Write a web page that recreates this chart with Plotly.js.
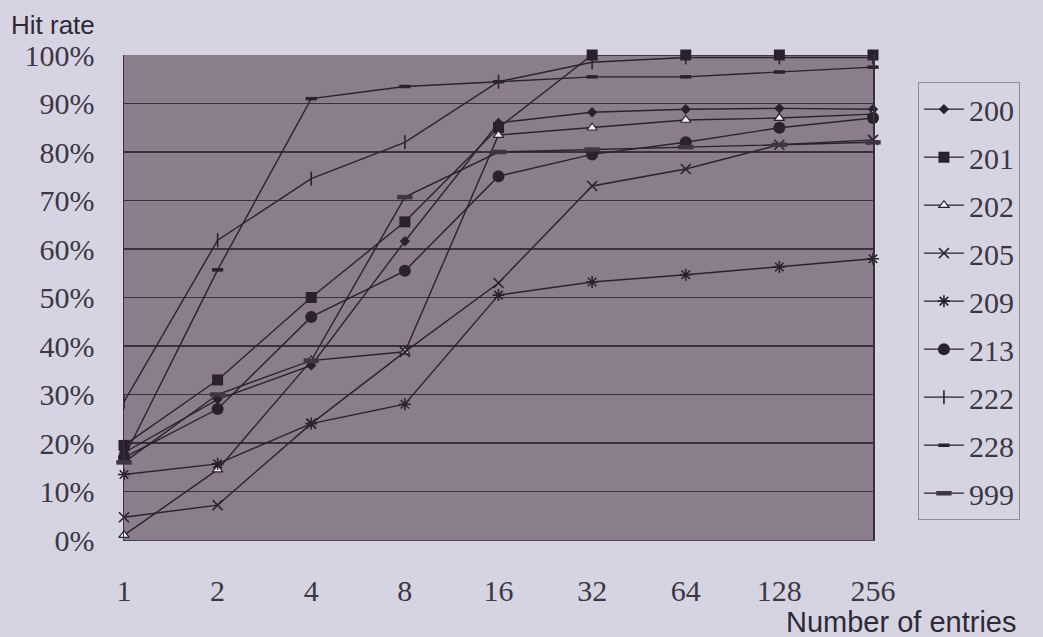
<!DOCTYPE html>
<html>
<head>
<meta charset="utf-8">
<script src="https://cdn.plot.ly/plotly-3.0.1.min.js"></script>
<style>
html,body{margin:0;padding:0;background:#d6d4e3;}
#chart{width:1043px;height:637px;}
</style>
</head>
<body>
<div id="chart"></div>
<script>
// Data
var entries = [1, 2, 4, 8, 16, 32, 64, 128, 256];
var entryLabels = ['1', '2', '4', '8', '16', '32', '64', '128', '256'];
var seriesNames = ['200', '201', '202', '205', '209', '213', '222', '228', '999'];
var s200 = [0.18, 0.29, 0.36, 0.616, 0.86, 0.882, 0.888, 0.89, 0.888];
var s201 = [0.195, 0.33, 0.50, 0.656, 0.85, 1.0, 1.0, 1.0, 1.0];
var s202 = [0.01, 0.145, 0.37, 0.388, 0.835, 0.85, 0.866, 0.87, 0.878];
var s205 = [0.047, 0.072, 0.24, 0.388, 0.53, 0.73, 0.765, 0.815, 0.825];
var s209 = [0.135, 0.157, 0.24, 0.28, 0.505, 0.532, 0.547, 0.563, 0.58];
var s213 = [0.17, 0.27, 0.46, 0.555, 0.75, 0.795, 0.82, 0.85, 0.87];
var s222 = [0.285, 0.618, 0.745, 0.82, 0.945, 0.985, 0.995, 0.995, 0.995];
var s228 = [0.17, 0.557, 0.91, 0.935, 0.945, 0.955, 0.955, 0.965, 0.975];
var s999 = [0.16, 0.30, 0.37, 0.707, 0.80, 0.805, 0.81, 0.815, 0.82];
var yTicks = [0, 0.1, 0.2, 0.3, 0.4, 0.5, 0.6, 0.7, 0.8, 0.9, 1.0];

var values = [s200, s201, s202, s205, s209, s213, s222, s228, s999];
var ink = '#29222e';
var markers = [
  {symbol: 'diamond', size: 8, color: ink, line: {width: 0}},
  {symbol: 'square', size: 11, color: ink, line: {width: 0}},
  {symbol: 'triangle-up', size: 9, color: '#f2f0f4', line: {width: 1.2, color: ink}},
  {symbol: 'x-thin-open', size: 10, color: ink, line: {width: 1.6, color: ink}},
  {symbol: 'asterisk-open', size: 10, color: ink, line: {width: 1.6, color: ink}},
  {symbol: 'circle', size: 12, color: ink, line: {width: 0}},
  {symbol: 'line-ns-open', size: 10, color: ink, line: {width: 1.6, color: ink}},
  {symbol: 'line-ew-open', size: 8, color: ink, line: {width: 3.5, color: ink}},
  {symbol: 'line-ew-open', size: 11, color: '#3e3644', line: {width: 4.5, color: '#3e3644'}}
];

var traces = seriesNames.map(function (name, i) {
  return {
    x: entries,
    y: values[i],
    name: name,
    legendgroup: 'g' + name,
    type: 'scatter',
    mode: 'lines+markers',
    line: {color: ink, width: 1.4},
    marker: markers[i],
    cliponaxis: false
  };
});

var tickFont = {family: '"Liberation Serif", "DejaVu Serif", serif', size: 30, color: '#3c3742'};

var layout = {
  width: 1043,
  height: 637,
  paper_bgcolor: '#d6d4e3',
  plot_bgcolor: '#8b7e8c',
  margin: {l: 124, r: 170, t: 55, b: 97},
  showlegend: true,
  font: {family: '"Liberation Serif", "DejaVu Serif", serif', color: '#3c3742'},
  xaxis: {
    type: 'log',
    range: [0, Math.log10(256)],
    tickvals: entries,
    ticktext: entryLabels,
    showgrid: false,
    zeroline: false,
    showline: true,
    linecolor: '#4a4250',
    linewidth: 1,
    mirror: false,
    ticks: '',
    ticklabelstandoff: 24,
    tickfont: tickFont
  },
  yaxis: {
    range: [0, 1],
    tickvals: yTicks,
    tickformat: '.0%',
    showgrid: true,
    gridcolor: '#3a3140',
    gridwidth: 1.2,
    zeroline: false,
    showline: true,
    linecolor: '#3a3140',
    linewidth: 1.5,
    mirror: true,
    ticks: '',
    ticklabelstandoff: 22,
    tickfont: tickFont
  },
  legend: {
    x: 1.060,
    xanchor: 'left',
    y: 0.944,
    yanchor: 'top',
    bgcolor: '#d6d4e3',
    bordercolor: '#8e8a9a',
    borderwidth: 1,
    font: {family: '"Liberation Serif", serif', size: 30, color: '#3c3742'},
    traceorder: 'grouped',
    tracegroupgap: 6,
    itemwidth: 40
  },
  annotations: [
    {
      text: 'Hit rate',
      xref: 'paper', yref: 'paper',
      x: -124 / 749, y: 1 + 30 / 485,
      xanchor: 'left', yanchor: 'middle',
      xshift: 9,
      showarrow: false,
      font: {family: '"Liberation Sans", Arial, sans-serif', size: 26, color: '#2e2a34'}
    },
    {
      text: 'Number of entries',
      xref: 'paper', yref: 'paper',
      x: 1, y: -82 / 485,
      xanchor: 'right', yanchor: 'middle',
      xshift: 146,
      showarrow: false,
      font: {family: '"Liberation Sans", Arial, sans-serif', size: 29, color: '#2e2a34'}
    }
  ]
};

Plotly.newPlot('chart', traces, layout, {displayModeBar: false, staticPlot: true});
</script>
</body>
</html>
